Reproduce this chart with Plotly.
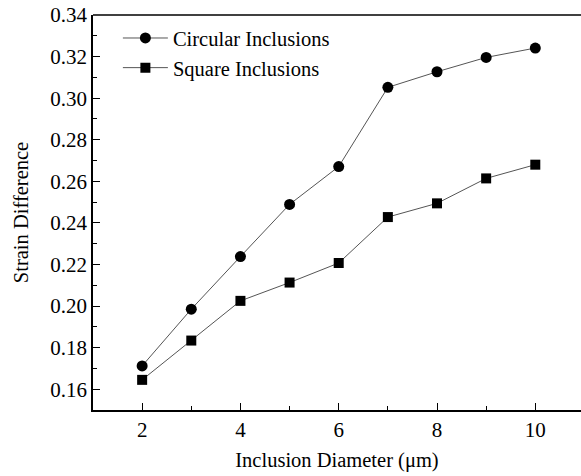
import plotly.graph_objects as go

# Inclusion diameter (µm) and resulting strain difference
diameter = [2, 3, 4, 5, 6, 7, 8, 9, 10]
circular = [0.1712, 0.1985, 0.2238, 0.2489, 0.2671, 0.3052, 0.3127, 0.3196, 0.3241]
square = [0.1645, 0.1834, 0.2025, 0.2113, 0.2207, 0.2428, 0.2494, 0.2614, 0.2680]

FONT = "Liberation Serif, Times New Roman, serif"

fig = go.Figure()
fig.add_trace(go.Scatter(
    x=diameter, y=circular, name="Circular Inclusions", mode="lines+markers",
    line=dict(color="#555555", width=1),
    marker=dict(symbol="circle", size=11, color="black"),
))
fig.add_trace(go.Scatter(
    x=diameter, y=square, name="Square Inclusions", mode="lines+markers",
    line=dict(color="#555555", width=1),
    marker=dict(symbol="square", size=10, color="black"),
))

axis_common = dict(
    showline=True, linecolor="black", linewidth=1.5,
    ticks="inside", ticklen=7, tickwidth=1.2, tickcolor="black",
    showgrid=False, zeroline=False,
    tickfont=dict(family=FONT, size=21, color="black"),
)

fig.update_xaxes(
    range=[1, 10.93], tickvals=[2, 4, 6, 8, 10],
    minor=dict(dtick=1, tick0=1, ticks="inside", ticklen=4, tickwidth=1.2, tickcolor="black"),
    title=dict(text="Inclusion Diameter (\u03bcm)", font=dict(family=FONT, size=20.5, color="black"), standoff=12),
    **axis_common,
)
fig.update_yaxes(
    range=[0.15, 0.34], tickvals=[0.16, 0.18, 0.20, 0.22, 0.24, 0.26, 0.28, 0.30, 0.32, 0.34],
    tickformat=".2f",
    minor=dict(dtick=0.01, tick0=0.15, ticks="inside", ticklen=4, tickwidth=1.2, tickcolor="black"),
    title=dict(text="Strain Difference", font=dict(family=FONT, size=20.5, color="black"), standoff=16),
    **axis_common,
)

# top frame line
fig.add_shape(type="line", xref="paper", yref="paper", x0=0, x1=1, y0=1, y1=1,
              line=dict(color="black", width=1.5))

fig.update_layout(
    width=581, height=476,
    margin=dict(l=93, r=0, t=15, b=66),
    paper_bgcolor="white", plot_bgcolor="white",
    font=dict(family=FONT, size=20.5, color="black"),
    legend=dict(x=0.051, y=0.992, xanchor="left", yanchor="top", itemwidth=45,
                bgcolor="rgba(0,0,0,0)", font=dict(family=FONT, size=20.5, color="black"),
                tracegroupgap=0),
)

fig.write_html("out.html")
